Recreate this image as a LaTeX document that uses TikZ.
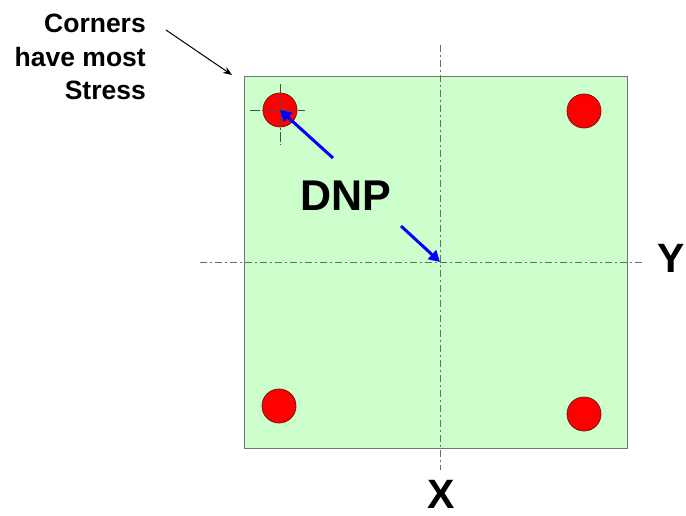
\documentclass[tikz,border=0pt]{standalone}
\usepackage{fontspec}
\setmainfont{Liberation Sans}
\usetikzlibrary{arrows.meta}
\definecolor{boardgreen}{RGB}{204,255,204}
\definecolor{axisgray}{RGB}{90,120,90}
\definecolor{ballred}{RGB}{255,0,0}
\definecolor{ballrim}{RGB}{120,20,20}
\begin{document}
\begin{tikzpicture}[x=1pt,y=-1pt,
  board/.style={draw=black!55,fill=boardgreen,line width=1pt},
  ball/.style={circle,draw=ballrim,fill=ballred,minimum size=34pt,inner sep=0pt,line width=0.8pt},
  axis/.style={draw=axisgray,line width=0.9pt,dash pattern=on 7pt off 3pt on 2pt off 3pt},
  cross/.style={draw=black!70,line width=0.6pt,dash pattern=on 10pt off 2pt on 2pt off 2pt},
  bluearrow/.style={draw=blue,line width=3pt,-{Triangle[length=11pt,width=12pt]}},
  lbl/.style={font=\bfseries,text=black,inner sep=0pt}]
\useasboundingbox (0,0) rectangle (686,516);
\node[board,minimum width=383pt,minimum height=372pt,inner sep=0pt,anchor=north west] (sq) at (244,76) {};
% axes
\coordinate (vt) at (440,45);
\coordinate (vb) at (440,470);
\coordinate (hl) at (200,262);
\coordinate (hr) at (642,262);
\coordinate (c) at (440,262);
\draw[axis] (vt) -- (vb);
\draw[axis] (hl) -- (hr);
% balls
\node[ball] (b1) at (280,110) {};
\node[ball] (b2) at (584,111) {};
\node[ball] (b3) at (279,406) {};
\node[ball] (b4) at (584,414) {};
% crosshair
\coordinate (chl) at (250,110);
\coordinate (chr) at (305,110);
\coordinate (cht) at (280,84);
\coordinate (chb) at (280,145);
\draw[cross] (chl) -- (chr);
\draw[cross] (cht) -- (chb);
% DNP
\node[lbl,font=\bfseries\fontsize{43}{43}\selectfont] (dnp) at (346,196) {DNP};
\coordinate (a1s) at (333,158);
\coordinate (a2s) at (401,226);
\draw[bluearrow] (a1s) -- (b1.center);
\draw[bluearrow] (a2s) -- (c);
% axis labels
\node[lbl,font=\bfseries\fontsize{41}{41}\selectfont,anchor=west] (ylab) at (657,258) {Y};
\node[lbl,font=\bfseries\fontsize{41}{41}\selectfont] (xlab) at (441,494) {X};
% corners note
\node[lbl,font=\bfseries\fontsize{26.5}{33.5}\selectfont,align=right,anchor=east] (note) at (146,57) {Corners\\have most\\Stress};
\coordinate (ns) at (166,30);
\coordinate (ne) at (232,75);
\draw[line width=1pt,-{Stealth[length=9pt,width=7pt]}] (ns) -- (ne);
\end{tikzpicture}
\end{document}
